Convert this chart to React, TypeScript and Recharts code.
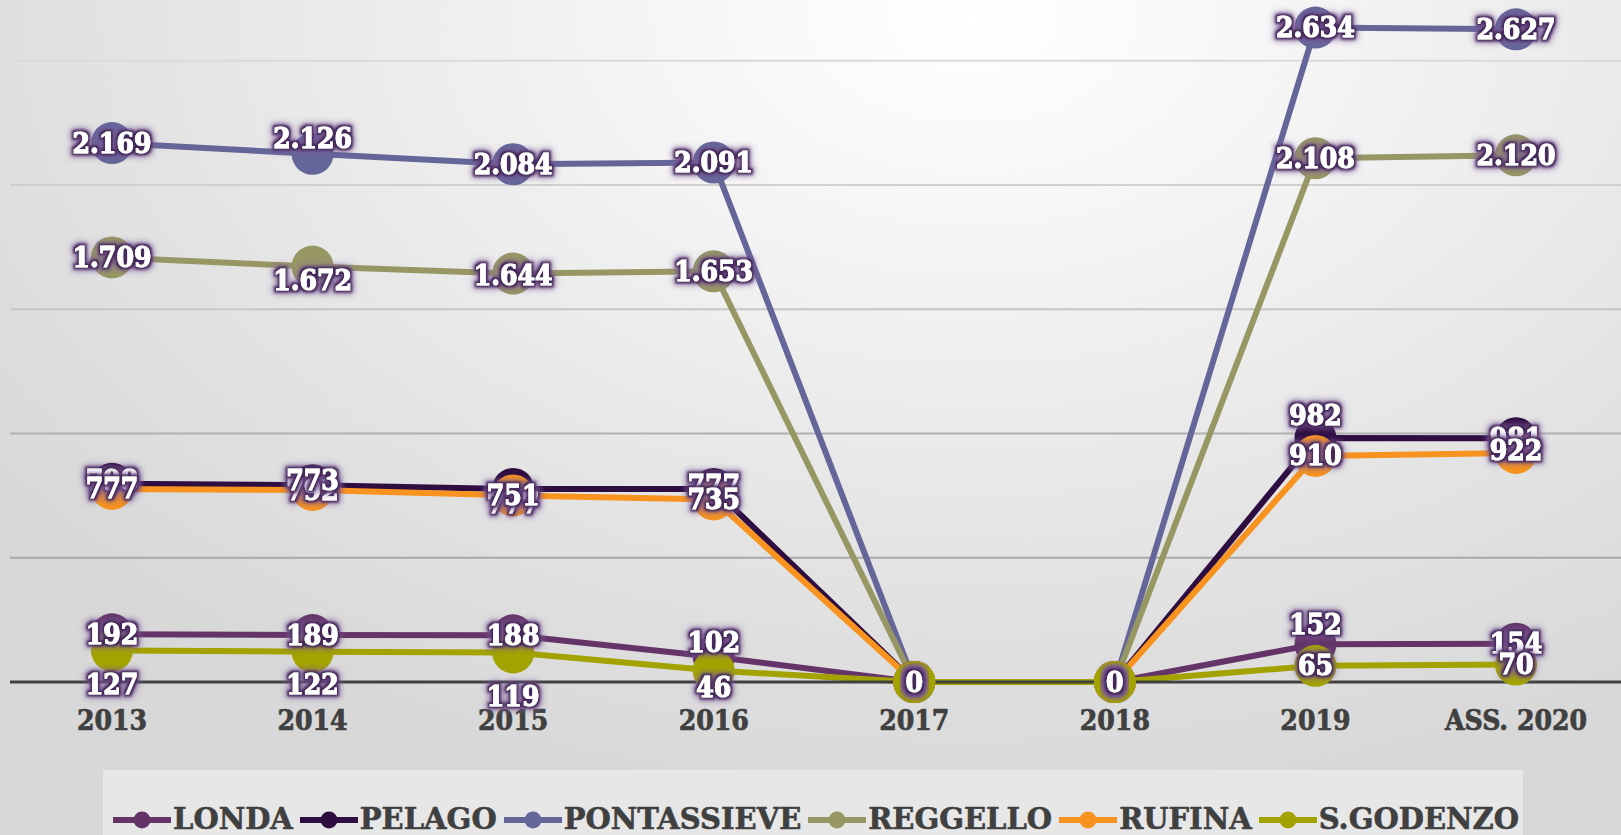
import React from 'react';
import { LineChart, Line, XAxis, YAxis, ReferenceLine, LabelList, Legend } from 'recharts';

const CATEGORIES = ['2013', '2014', '2015', '2016', '2017', '2018', '2019', 'ASS. 2020'];
const LONDA = [192, 189, 188, 102, 0, 0, 152, 154];
const PELAGO = [798, 792, 777, 777, 0, 0, 982, 981];
const PONTASSIEVE = [2169, 2126, 2084, 2091, 0, 0, 2634, 2627];
const REGGELLO = [1709, 1672, 1644, 1653, 0, 0, 2108, 2120];
const RUFINA = [777, 773, 751, 735, 0, 0, 910, 922];
const SGODENZO = [127, 122, 119, 46, 0, 0, 65, 70];
const SERIES_NAMES = ['LONDA', 'PELAGO', 'PONTASSIEVE', 'REGGELLO', 'RUFINA', 'S.GODENZO'];
const SERIES_VALUES = [LONDA, PELAGO, PONTASSIEVE, REGGELLO, RUFINA, SGODENZO];
const Y_TICKS = [0, 500, 1000, 1500, 2000, 2500];
const GRID_VALUES = [500, 1000, 1500, 2000, 2500];

// styling (kept apart from the data)
const COLORS = ['#643468', '#2e0d40', '#646699', '#979764', '#f7931e', '#a3a300'];
const GRID_COLORS = ['#a8a8a8', '#b0b0b0', '#c6c6c6', '#d0d0d0', '#dadada'];
const LABEL_DY = [
  [0, 0, 0, -14, 0, 0, -20, 0],
  [-3, 5, 15, -3, 0, 0, -23, 0],
  [0, -15, 0, 0, 0, 0, 0, 0],
  [0, 14, 2, 0, 0, 0, 0, 0],
  [0, -9, 0, 0, 0, 0, 0, -2],
  [34, 33, 44, 17, 0, 0, 0, 0],
];
const FONT = "'DejaVu Serif Condensed', 'DejaVu Serif', serif";
const FONT_WIDE = "'DejaVu Serif', serif";

const data = CATEGORIES.map((cat, i) => {
  const row: Record<string, any> = { cat };
  SERIES_NAMES.forEach((n, s) => {
    row[n] = SERIES_VALUES[s][i];
  });
  return row;
});

const fmt = (v: number) => String(v).replace(/\B(?=(\d{3})+(?!\d))/g, '.');

const makeLabel = (offsets: number[]) => (p: any) => {
  const x = p.x ?? p.viewBox?.x;
  const y = p.y ?? p.viewBox?.y;
  const idx = p.index ?? 0;
  if (x == null || y == null) return null;
  return (
    <text
      x={x}
      y={y + (offsets[idx] || 0)}
      textAnchor="middle"
      dominantBaseline="central"
      fill="#ffffff"
      stroke="#ffffff"
      strokeWidth={0.9}
      filter="url(#lblGlow)"
      style={{ fontFamily: FONT, fontWeight: 700, fontSize: 28, fontStretch: 'condensed' }}
    >
      {fmt(Number(p.value))}
    </text>
  );
};

const Tick = (p: any) => (
  <text
    x={p.x}
    y={p.y + 38}
    textAnchor="middle"
    dominantBaseline="central"
    fill="#404040"
    stroke="#404040"
    strokeWidth={0.7}
    style={{ fontFamily: FONT, fontWeight: 700, fontSize: 28, fontStretch: 'condensed' }}
  >
    {p.payload.value}
  </text>
);

const renderLegend = (props: any) => {
  const items = (props.payload || []).filter((e: any) => e.type !== 'none');
  return (
    <div
      style={{
        boxSizing: 'border-box',
        width: 1420,
        height: 65,
        background: '#e7e7e7',
        display: 'flex',
        alignItems: 'center',
        paddingLeft: 10,
        paddingTop: 34,
        gap: 7,
      }}
    >
      {items.map((e: any) => (
        <div key={e.value} style={{ display: 'flex', alignItems: 'center', gap: 2 }}>
          <svg width={58} height={20}>
            <line x1={0} y1={10} x2={58} y2={10} stroke={e.color} strokeWidth={6} />
            <circle cx={29} cy={10} r={8.5} fill={e.color} />
          </svg>
          <span
            style={{
              fontFamily: FONT_WIDE,
              fontWeight: 700,
              fontSize: 29,
              color: '#404040',
              lineHeight: '29px',
              WebkitTextStroke: '0.6px #404040',
              whiteSpace: 'nowrap',
            }}
          >
            {e.value}
          </span>
        </div>
      ))}
    </div>
  );
};

export default function App() {
  return (
    <div
      style={{
        position: 'absolute',
        left: 0,
        top: 0,
        width: 1621,
        height: 835,
        overflow: 'hidden',
        background:
          'radial-gradient(ellipse 75% 95% at 60% 2%, #ffffff 0%, #f4f4f4 30%, #e3e3e3 70%, #d8d8d8 100%)',
      }}
    >
      <svg width={0} height={0} style={{ position: 'absolute' }}>
        <defs>
          <filter id="lblGlow" x="-30%" y="-60%" width="160%" height="220%">
            <feMorphology in="SourceAlpha" operator="dilate" radius={1.5} result="d" />
            <feGaussianBlur in="d" stdDeviation={1.2} result="b1" />
            <feFlood floodColor="#3c1c52" floodOpacity={0.9} />
            <feComposite in2="b1" operator="in" result="g1" />
            <feMorphology in="SourceAlpha" operator="dilate" radius={2.5} result="d2" />
            <feGaussianBlur in="d2" stdDeviation={3} result="b2" />
            <feFlood floodColor="#7a5896" floodOpacity={0.85} />
            <feComposite in2="b2" operator="in" result="g2" />
            <feMerge>
              <feMergeNode in="g2" />
              <feMergeNode in="g1" />
              <feMergeNode in="SourceGraphic" />
            </feMerge>
          </filter>
        </defs>
      </svg>
      <LineChart
        width={1621}
        height={835}
        data={data}
        margin={{ top: 0, right: 0, left: 10, bottom: 123 }}
      >
        <YAxis hide domain={[0, 2745]} ticks={Y_TICKS} />
        <XAxis
          dataKey="cat"
          interval={0}
          padding={{ left: 102, right: 105 }}
          tickLine={false}
          tickSize={0}
          tickMargin={0}
          axisLine={{ stroke: '#404040', strokeWidth: 3 }}
          tick={<Tick />}
        />
        {GRID_VALUES.map((v, i) => (
          <ReferenceLine key={'g' + v} y={v} stroke={GRID_COLORS[i]} strokeWidth={2} />
        ))}
        {SERIES_NAMES.map((n, s) => (
          <Line
            key={n}
            dataKey={n}
            name={n}
            stroke={COLORS[s]}
            strokeWidth={6}
            dot={{ r: 21, fill: COLORS[s], stroke: COLORS[s], strokeWidth: 0 }}
            activeDot={false}
            isAnimationActive={false}
          />
        ))}
        {SERIES_NAMES.map((n, s) => (
          <Line
            key={n + '-lbl'}
            dataKey={n}
            name={n + ' '}
            stroke="none"
            dot={false}
            activeDot={false}
            legendType="none"
            isAnimationActive={false}
          >
            <LabelList dataKey={n} content={makeLabel(LABEL_DY[s])} />
          </Line>
        ))}
        <Legend
          layout="vertical"
          verticalAlign="middle"
          align="center"
          content={renderLegend}
          wrapperStyle={{ position: 'absolute', left: 103, top: 770, width: 1420, height: 65, margin: 0 }}
        />
      </LineChart>
    </div>
  );
}
